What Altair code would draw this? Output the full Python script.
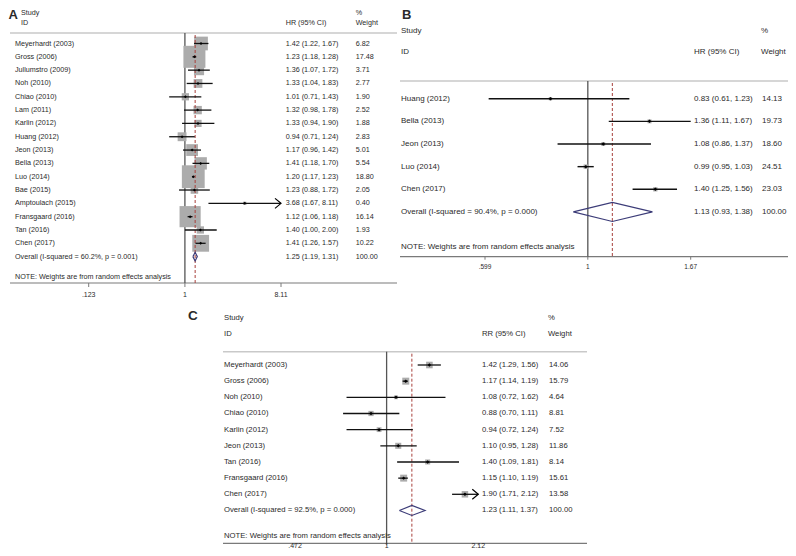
import altair as alt
import pandas as pd

# ---------------- data ----------------
# Panel A (HR)
A_study = ["Meyerhardt (2003)", "Gross (2006)", "Jullumstro (2009)", "Noh (2010)", "Chiao (2010)",
           "Lam  (2011)", "Karlin (2012)", "Huang (2012)", "Jeon (2013)", "Bella (2013)", "Luo (2014)",
           "Bae (2015)", "Amptoulach (2015)", "Fransgaard (2016)", "Tan (2016)", "Chen (2017)"]
A_est = [1.42, 1.23, 1.36, 1.33, 1.01, 1.32, 1.33, 0.94, 1.17, 1.41, 1.20, 1.23, 3.68, 1.12, 1.40, 1.41]
A_lo = [1.22, 1.18, 1.07, 1.04, 0.71, 0.98, 0.94, 0.71, 0.96, 1.18, 1.17, 0.88, 1.67, 1.06, 1.00, 1.26]
A_hi = [1.67, 1.28, 1.72, 1.83, 1.43, 1.78, 1.90, 1.24, 1.42, 1.70, 1.23, 1.72, 8.11, 1.18, 2.00, 1.57]
A_wt = [6.82, 17.48, 3.71, 2.77, 1.90, 2.52, 1.88, 2.83, 5.01, 5.54, 18.80, 2.05, 0.40, 16.14, 1.93, 10.22]
A_arrow = [False] * 12 + [True] + [False] * 3
A_overall = ["Overall  (I-squared = 60.2%, p = 0.001)", 1.25, 1.19, 1.31]
A_ticks = [0.123, 1, 8.11]
A_tick_labels = [".123", "1", "8.11"]

# Panel B (HR)
B_study = ["Huang (2012)", "Bella (2013)", "Jeon (2013)", "Luo (2014)", "Chen (2017)"]
B_est = [0.83, 1.36, 1.08, 0.99, 1.40]
B_lo = [0.61, 1.11, 0.86, 0.95, 1.25]
B_hi = [1.23, 1.67, 1.37, 1.03, 1.56]
B_wt = [14.13, 19.73, 18.60, 24.51, 23.03]
B_arrow = [False] * 5
B_overall = ["Overall  (I-squared = 90.4%, p = 0.000)", 1.13, 0.93, 1.38]
B_ticks = [0.599, 1, 1.67]
B_tick_labels = [".599", "1", "1.67"]

# Panel C (RR)
C_study = ["Meyerhardt (2003)", "Gross (2006)", "Noh (2010)", "Chiao (2010)", "Karlin (2012)",
           "Jeon (2013)", "Tan (2016)", "Fransgaard (2016)", "Chen (2017)"]
C_est = [1.42, 1.17, 1.08, 0.88, 0.94, 1.10, 1.40, 1.15, 1.90]
C_lo = [1.29, 1.14, 0.72, 0.70, 0.72, 0.95, 1.09, 1.10, 1.71]
C_hi = [1.56, 1.19, 1.62, 1.11, 1.24, 1.28, 1.81, 1.19, 2.12]
C_wt = [14.06, 15.79, 4.64, 8.81, 7.52, 11.86, 8.14, 15.61, 13.58]
C_arrow = [False] * 8 + [True]
C_overall = ["Overall  (I-squared = 92.5%, p = 0.000)", 1.23, 1.11, 1.37]
C_ticks = [0.472, 1, 2.12]
C_tick_labels = [".472", "1", "2.12"]

NOTE = "NOTE: Weights are from random effects analysis"

# ---------------- styling ----------------
FONT = "Liberation Sans"
TXT = "#2a2a2a"
OFF = 8  # page margin


def P(v):
    return v - OFF


def label(s, x, y, size, bold=False):
    return alt.Chart(pd.DataFrame({"t": [s]})).mark_text(
        align="left", baseline="middle", font=FONT, fontSize=size,
        fontWeight="bold" if bold else "normal", color=TXT
    ).encode(x=alt.value(P(x)), y=alt.value(P(y)), text="t:N")


def hline(x1, x2, y, color, width):
    return alt.Chart(pd.DataFrame({"a": [0]})).mark_rule(color=color, strokeWidth=width).encode(
        x=alt.value(P(x1)), x2=alt.value(P(x2)), y=alt.value(P(y)))


def panel(study, est, lo, hi, wt, arrow, ov, ticks, tick_labels, lay, headers):
    n = len(study)
    df = pd.DataFrame({"row": list(range(1, n + 1)), "study": study, "est": est,
                       "lo": lo, "hi": hi, "w": wt, "arrow": arrow})
    tdf = pd.DataFrame({
        "row": list(range(1, n + 2)),
        "study": study + [ov[0]],
        "ci": [f"{e:.2f} ({l:.2f}, {h:.2f})" for e, l, h in zip(est + [ov[1]], lo + [ov[2]], hi + [ov[3]])],
        "wt": [f"{w:.2f}" for w in wt] + ["100.00"],
    })
    xs = alt.Scale(type="log", domain=[ticks[0], ticks[-1]], range=[P(lay["x0"]), P(lay["x1"])],
                   nice=False, zero=False)
    ys = alt.Scale(type="linear", domain=[1, n], range=[P(lay["y_first"]), P(lay["y_last"])],
                   nice=False, zero=False)

    def X(f):
        return alt.X(f, type="quantitative", scale=xs, axis=None)

    def Y(f):
        return alt.Y(f, type="quantitative", scale=ys, axis=None)

    top, bot = lay["header_y"], lay["axis_y"]
    layers = []
    # header and axis lines
    layers.append(hline(lay["lx0"], lay["lx1"], top, "#c9c9c9", 1.5))
    layers.append(hline(lay["lx0"], lay["lx1"], bot, "#7a7a7a", 1.2))
    # null line at 1
    layers.append(alt.Chart(pd.DataFrame({"v": [1.0]})).mark_rule(color="#555555", strokeWidth=1.3).encode(
        x=X("v"), y=alt.value(P(top)), y2=alt.value(P(bot))))
    # weight boxes
    layers.append(alt.Chart(df).mark_square(color="#acacac", opacity=1).encode(
        x=X("est"), y=Y("row"),
        size=alt.Size("w:Q", scale=alt.Scale(type="linear", domain=[0, 100], range=[0, lay["k"] * 100]),
                      legend=None)))
    # overall dashed line
    layers.append(alt.Chart(pd.DataFrame({"v": [ov[1]]})).mark_rule(
        color="#a8403c", strokeWidth=1, strokeDash=[3, 2]).encode(
        x=X("v"), y=alt.value(P(top + 2)), y2=alt.value(P(bot))))
    # CI lines
    layers.append(alt.Chart(df).mark_rule(color="#111111", strokeWidth=lay["lw"]).encode(
        x=X("lo"), x2=alt.X2("hi"), y=Y("row")))
    # point estimates
    layers.append(alt.Chart(df).mark_point(shape="diamond", filled=True, color="#000000", opacity=1,
                                           size=lay["ps"]).encode(x=X("est"), y=Y("row")))
    # arrows for clipped CIs
    if any(arrow):
        layers.append(alt.Chart(df[df["arrow"]]).mark_point(
            shape="M -1.2 -1 L 0 0 L -1.2 1", filled=False, color="#000000", opacity=1,
            strokeWidth=1.2, size=100).encode(x=X("hi"), y=Y("row")))
    # overall diamond
    h = lay["dh"]
    r = n + 1
    ddf = pd.DataFrame({"x": [ov[2], ov[1], ov[3], ov[1], ov[2]],
                        "y": [r, r - h, r, r + h, r], "o": [0, 1, 2, 3, 4]})
    layers.append(alt.Chart(ddf).mark_line(color="#3c3c78", strokeWidth=1.2).encode(
        x=X("x"), y=Y("y"), order="o:Q"))
    # ticks and tick labels
    tk = pd.DataFrame({"v": ticks, "lab": tick_labels})
    layers.append(alt.Chart(tk).mark_rule(color="#7a7a7a", strokeWidth=1).encode(
        x=X("v"), y=alt.value(P(bot)), y2=alt.value(P(bot + lay["tick_len"]))))
    layers.append(alt.Chart(tk).mark_text(font=FONT, fontSize=lay["tfs"], color=TXT, baseline="middle",
                                          align="center").encode(
        x=X("v"), y=alt.value(P(lay["tick_y"])), text="lab:N"))
    # text columns
    fs = lay["fs"]
    for col, xpos in (("study", lay["sx"]), ("ci", lay["cx"]), ("wt", lay["wx"])):
        layers.append(alt.Chart(tdf).mark_text(align="left", baseline="middle", font=FONT, fontSize=fs,
                                               color=TXT).encode(
            x=alt.value(P(xpos)), y=Y("row"), text=f"{col}:N"))
    layers.append(label(NOTE, lay["sx"], lay["note_y"], fs))
    for (s, x, y, size, bold) in headers:
        layers.append(label(s, x, y, size, bold))
    return alt.layer(*layers)


layA = dict(x0=88.7, x1=281, y_first=43.5, y_last=243.3, header_y=33, axis_y=283, lx0=10, lx1=397,
            sx=15, cx=285.7, wx=355.7, fs=7.2, tfs=7, tick_y=295, tick_len=4, note_y=276.7,
            dh=0.33, k=27.7, lw=1.3, ps=9)
hdrA = [("A", 8.5, 14.5, 13, True), ("Study", 21, 12.5, 7.2, False), ("ID", 21, 23, 7.2, False),
        ("HR (95% CI)", 285.7, 23, 7.2, False), ("%", 355.7, 12.5, 7.2, False),
        ("Weight", 355.7, 23, 7.2, False)]

layB = dict(x0=485, x1=690.7, y_first=98.7, y_last=189.3, header_y=81, axis_y=256.7, lx0=400, lx1=788,
            sx=401, cx=694, wx=762, fs=8, tfs=6.5, tick_y=267, tick_len=3, note_y=246.7,
            dh=0.42, k=0.8, lw=1.4, ps=12)
hdrB = [("B", 402, 15, 13, True), ("Study", 401, 31, 8, False), ("ID", 401, 52, 8, False),
        ("HR (95% CI)", 694, 52, 8, False), ("%", 761, 31, 8, False), ("Weight", 761, 52, 8, False)]

layC = dict(x0=295, x1=478.3, y_first=365, y_last=494.3, header_y=351.7, axis_y=543.3, lx0=223, lx1=587,
            sx=224, cx=482, wx=549, fs=7.7, tfs=7, tick_y=546, tick_len=2, note_y=536,
            dh=0.31, k=3.1, lw=1.3, ps=12)
hdrC = [("C", 188, 316, 13.5, True), ("Study", 224, 317.5, 7.7, False), ("ID", 224, 334, 7.7, False),
        ("RR (95% CI)", 482, 334, 7.7, False), ("%", 548, 318, 7.7, False), ("Weight", 548, 334, 7.7, False)]

pA = panel(A_study, A_est, A_lo, A_hi, A_wt, A_arrow, A_overall, A_ticks, A_tick_labels, layA, hdrA)
pB = panel(B_study, B_est, B_lo, B_hi, B_wt, B_arrow, B_overall, B_ticks, B_tick_labels, layB, hdrB)
pC = panel(C_study, C_est, C_lo, C_hi, C_wt, C_arrow, C_overall, C_ticks, C_tick_labels, layC, hdrC)

chart = alt.layer(pA, pB, pC).resolve_scale(
    x="independent", y="independent", size="independent"
).properties(
    width=780, height=540, padding=0, autosize=alt.AutoSizeParams(type="none")
).configure_view(stroke=None)

chart.save("out.html", embed_options={"renderer": "svg", "actions": False})
